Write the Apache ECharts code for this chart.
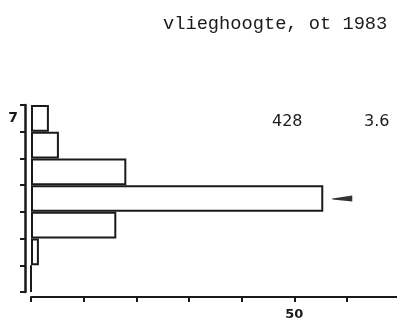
<!DOCTYPE html>
<html>
<head>
<meta charset="utf-8">
<script src="https://cdn.jsdelivr.net/npm/echarts@6/dist/echarts.min.js"></script>
<style>
html,body{margin:0;padding:0;background:#fff;}
#c{width:397px;height:323px;}
</style>
</head>
<body>
<div id="c"></div>
<script>
// Data
const categories = ['7', '6', '5', '4', '3', '2', '1'];
const values = [3.4, 5.3, 18.1, 55.5, 16.2, 1.5, 0];
const shownYLabels = ['7'];
const xTicks = [0, 10, 20, 30, 40, 50, 60];
const shownXLabels = [50];
const markedIndex = 3;
const titleText = 'vlieghoogte, ot 1983';
const noteLeft = '428';
const noteRight = '3.6';

const chart = echarts.init(document.getElementById('c'));
const ink = '#1a1a1a';
chart.setOption({
  animation: false,
  backgroundColor: '#fff',
  title: {
    text: titleText,
    left: 158, top: 10,
    textStyle: { fontFamily: 'Liberation Mono', fontSize: 18.7, fontWeight: 'normal', color: ink }
  },
  graphic: [
    { type: 'text', left: 272, top: 114, style: { text: noteLeft, font: '16px "DejaVu Sans"', fill: ink } },
    { type: 'text', left: 364, top: 114, style: { text: noteRight, font: '16px "DejaVu Sans"', fill: ink } }
  ],
  grid: { left: 31, right: 0, top: 105, bottom: 31, containLabel: false },
  xAxis: {
    type: 'value', min: 0, max: 69.5, interval: 10,
    offset: 5,
    axisLine: { show: true, lineStyle: { color: ink, width: 2 } },
    axisTick: { show: true, length: 5, customValues: xTicks, lineStyle: { color: ink, width: 2 } },
    splitLine: { show: false },
    axisLabel: {
      margin: 11,
      customValues: shownXLabels,
      fontFamily: 'DejaVu Sans', fontWeight: 'bold', fontSize: 13, color: ink,
      formatter: v => shownXLabels.includes(v) ? String(v) : ''
    }
  },
  yAxis: {
    type: 'category', data: categories, inverse: true,
    offset: 6,
    axisLine: { show: true, onZero: false, lineStyle: { color: ink, width: 2.5 } },
    axisTick: { show: true, length: 5, lineStyle: { color: ink, width: 2 } },
    axisLabel: {
      margin: 7,
      fontFamily: 'DejaVu Sans', fontWeight: 'bold', fontSize: 14, color: ink,
      formatter: v => shownYLabels.includes(v) ? v : ''
    }
  },
  series: [{
    type: 'bar',
    data: values,
    barCategoryGap: 0,
    itemStyle: { color: '#fff', borderColor: ink, borderWidth: 2 },
    markPoint: {
      symbol: 'path://M0,4 L20,1 L20,7 L0,5 Z',
      symbolSize: [20, 6],
      symbolOffset: [19, 0],
      label: { show: false },
      itemStyle: { color: '#333' },
      data: [{ coord: [values[markedIndex], markedIndex] }]
    }
  }]
});
</script>
</body>
</html>
